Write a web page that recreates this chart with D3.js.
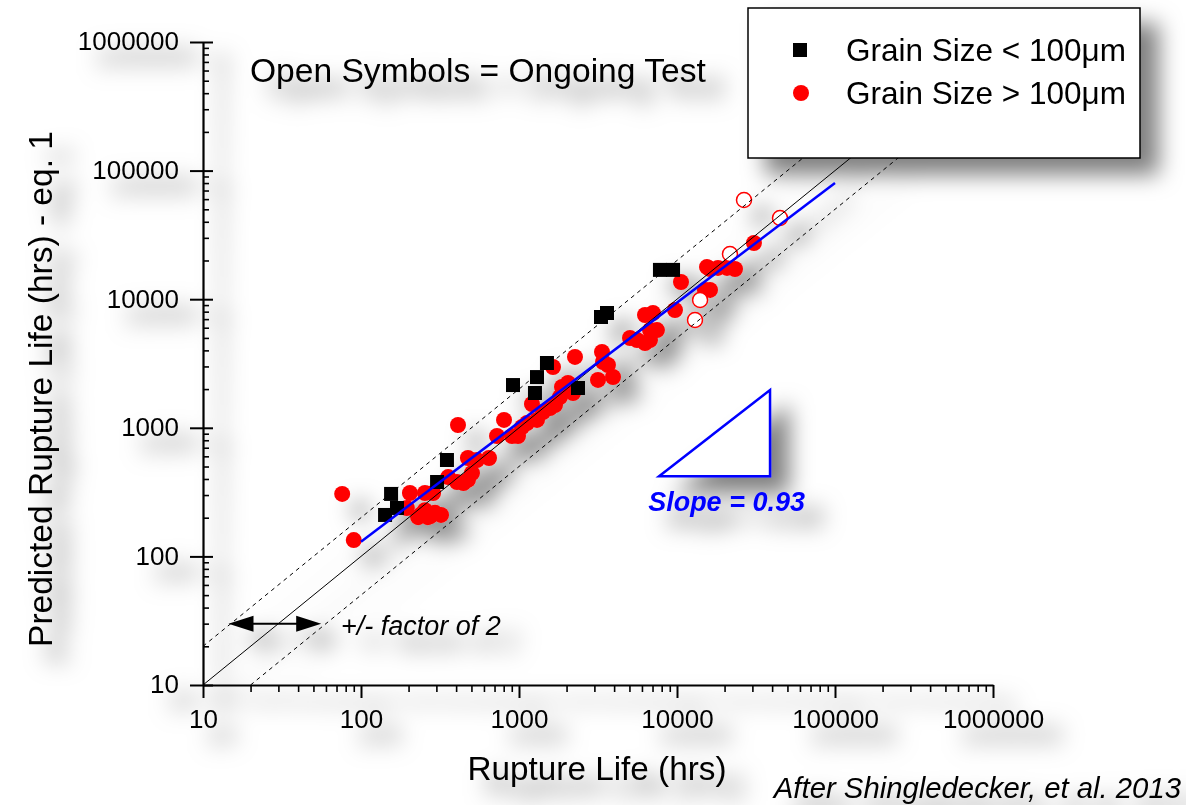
<!DOCTYPE html>
<html>
<head>
<meta charset="utf-8">
<script src="https://cdn.jsdelivr.net/npm/d3@7"></script>
<style>
  html, body { margin: 0; padding: 0; background: #fff; }
  svg { display: block; font-family: "Liberation Sans", Arial, Helvetica, sans-serif; }
</style>
</head>
<body>
<svg id="chart" width="1186" height="805"></svg>
<script>
// ---- data ----
const majorTicks = [10, 100, 1000, 10000, 100000, 1000000];
const tickLabels = ["10", "100", "1000", "10000", "100000", "1000000"];

// Grain Size < 100 µm (black squares): rupture life (hrs), predicted life (hrs)
const fineX = [142, 155, 169, 303, 350, 916, 1262, 1300, 1503, 2362, 3304, 3606, 7800, 9440];
const fineY = [210, 306, 238, 379, 562, 2150, 1865, 2480, 3190, 2040, 7270, 7810, 16900, 16900];

// Grain Size > 100 µm (red filled circles)
const coarseX = [76, 90, 204, 254, 286, 195, 230, 254, 265, 294, 321, 356, 405, 411, 475, 475, 504, 542,
  646, 726, 804, 903, 986, 1045, 1124, 1208, 1300, 1419, 1571, 1690, 1817, 1641, 1871, 2042, 2261, 2198,
  3352, 3404, 3656, 3936, 3162, 5042, 5585, 6273, 6745, 6745, 7468, 6273, 7047, 9710, 10600, 15490,
  16180, 18160, 20720, 23290, 15030, 16180, 30700, 240, 275, 445];
const coarseY = [306, 134, 311, 311, 311, 238, 202, 229, 202, 218, 210, 414, 379, 1052, 582, 393, 445, 562,
  582, 863, 1151, 863, 863, 1015, 1090, 1531, 1151, 1327, 1426, 1504, 1736, 2971, 2076, 2230, 3555, 1865,
  3884, 3250, 3077, 2484, 2355, 4990, 4818, 4563, 4818, 5755, 5755, 7534, 7810, 8241, 13610, 17790,
  17180, 17500, 17500, 17180, 11800, 11800, 27350, 212, 206, 372];

// Ongoing tests (open red circles)
const openX = [26550, 44870, 21640, 14000, 13000];
const openY = [59050, 42780, 22450, 9860, 6890];

// Regression line (slope 0.93 in log-log)
const fitX = [100, 100000];
const fitY = [130, 80000];

// Reference lines: 1:1 and factor-of-2 bands
const lineX = [10, 1000000];
const bandFactor = 2;

// Slope triangle
const triX = [7700, 38800, 38800];
const triY = [420, 420, 1970];

// Double arrow for "+/- factor of 2"
const arrowX = [14.5, 56];
const arrowY = 30;

// ---- chart ----
const svg = d3.select("#chart");
const defs = svg.append("defs");
const f = defs.append("filter").attr("id", "shadow")
  .attr("filterUnits", "userSpaceOnUse")
  .attr("x", 0).attr("y", 0).attr("width", 1186).attr("height", 805);
f.append("feDropShadow").attr("dx", 18).attr("dy", 16).attr("stdDeviation", 11)
  .attr("flood-color", "#000").attr("flood-opacity", 0.5);

const g = svg.append("g").attr("filter", "url(#shadow)");

const x = d3.scaleLog().domain([10, 1000000]).range([203, 993]);
const y = d3.scaleLog().domain([10, 1000000]).range([685, 42]);

const FONT = '"Liberation Sans", Arial, Helvetica, sans-serif';

// minor ticks
const minors = [];
for (let d = 10; d < 1000000; d *= 10) for (let k = 2; k <= 9; k++) minors.push(d * k);

// X axis
const xMinor = g.append("g").attr("transform", "translate(0,685)")
  .call(d3.axisBottom(x).tickValues(minors).tickSize(7).tickSizeOuter(0).tickFormat(""));
xMinor.select(".domain").remove();
xMinor.selectAll(".tick line").attr("stroke", "#000").attr("stroke-width", 1.6);

const xAxis = g.append("g").attr("transform", "translate(0,685)")
  .call(d3.axisBottom(x).tickValues(majorTicks).tickSize(13).tickSizeOuter(0)
    .tickFormat((d, i) => tickLabels[i]));
xAxis.select(".domain").attr("stroke", "#000").attr("stroke-width", 2.2);
xAxis.selectAll(".tick line").attr("stroke", "#000").attr("stroke-width", 2);
xAxis.selectAll(".tick text").attr("y", 43).attr("dy", 0)
  .attr("font-size", 26).attr("font-family", FONT).attr("fill", "#000");

// Y axis
const yMinor = g.append("g").attr("transform", "translate(203,0)")
  .call(d3.axisRight(y).tickValues(minors).tickSize(6).tickSizeOuter(0).tickFormat(""));
yMinor.select(".domain").remove();
yMinor.selectAll(".tick line").attr("stroke", "#000").attr("stroke-width", 1.6);

const yAxis = g.append("g").attr("transform", "translate(203,0)")
  .call(d3.axisLeft(y).tickValues(majorTicks).tickSize(13).tickSizeOuter(0)
    .tickFormat((d, i) => tickLabels[i]));
yAxis.select(".domain").attr("stroke", "#000").attr("stroke-width", 2.2);
yAxis.selectAll(".tick line").attr("x1", 10).attr("stroke", "#000").attr("stroke-width", 2);
yAxis.selectAll(".tick text").attr("x", -24).attr("dy", "0.3em")
  .attr("font-size", 26).attr("font-family", FONT).attr("fill", "#000");

// Markers
const coarse = coarseX.map((v, i) => [v, coarseY[i]]);
const fine = fineX.map((v, i) => [v, fineY[i]]);
const open = openX.map((v, i) => [v, openY[i]]);

g.append("g").selectAll("circle").data(coarse).join("circle")
  .attr("cx", d => x(d[0])).attr("cy", d => y(d[1])).attr("r", 8)
  .attr("fill", "#ff0000");

g.append("g").selectAll("circle").data(open).join("circle")
  .attr("cx", d => x(d[0])).attr("cy", d => y(d[1])).attr("r", 7.5)
  .attr("fill", "#fff").attr("stroke", "#ff0000").attr("stroke-width", 1.5);

g.append("g").selectAll("path").data(fine).join("path")
  .attr("d", d3.symbol(d3.symbolSquare, 196))
  .attr("transform", d => `translate(${x(d[0])},${y(d[1])})`)
  .attr("fill", "#000");

// Reference lines
const line = d3.line().x(d => x(d[0])).y(d => y(d[1]));
const lines = g.append("g").attr("fill", "none");
lines.append("path").attr("d", line(lineX.map(v => [v, v])))
  .attr("stroke", "#000").attr("stroke-width", 1);
lines.append("path").attr("d", line([[lineX[0], lineX[0] * bandFactor], [lineX[1] / bandFactor, lineX[1]]]))
  .attr("stroke", "#000").attr("stroke-width", 1).attr("stroke-dasharray", "4,4");
lines.append("path").attr("d", line([[lineX[0] * bandFactor, lineX[0]], [lineX[1], lineX[1] / bandFactor]]))
  .attr("stroke", "#000").attr("stroke-width", 1).attr("stroke-dasharray", "4,4");

// Regression line
g.append("path").attr("d", line(fitX.map((v, i) => [v, fitY[i]])))
  .attr("fill", "none").attr("stroke", "#0000ff").attr("stroke-width", 2.5);

// Slope triangle
g.append("path").attr("d", line(triX.map((v, i) => [v, triY[i]])) + "Z")
  .attr("fill", "#fff").attr("stroke", "#0000ff").attr("stroke-width", 2.5)
  .attr("stroke-linejoin", "miter");
g.append("text").attr("x", (x(triX[0]) + x(triX[1])) / 2 + 12).attr("y", 511)
  .attr("text-anchor", "middle").attr("font-size", 27).attr("font-weight", "bold")
  .attr("font-style", "italic").attr("fill", "#0000ff").attr("font-family", FONT)
  .text("Slope = 0.93");

// Double arrow
const ax0 = x(arrowX[0]), ax1 = x(arrowX[1]), ay = y(arrowY);
g.append("line").attr("x1", ax0 + 20).attr("x2", ax1 - 20).attr("y1", ay).attr("y2", ay)
  .attr("stroke", "#000").attr("stroke-width", 2);
g.append("path").attr("d", `M${ax0},${ay} L${ax0 + 25},${ay - 8} L${ax0 + 25},${ay + 8} Z`).attr("fill", "#000");
g.append("path").attr("d", `M${ax1},${ay} L${ax1 - 25},${ay - 8} L${ax1 - 25},${ay + 8} Z`).attr("fill", "#000");
g.append("text").attr("x", 341).attr("y", 635).attr("font-size", 27).attr("font-style", "italic")
  .attr("font-family", FONT).attr("fill", "#000").text("+/- factor of 2");

// Note
g.append("text").attr("x", 250).attr("y", 82).attr("font-size", 33.6)
  .attr("font-family", FONT).attr("fill", "#000").text("Open Symbols = Ongoing Test");

// Axis titles
g.append("text").attr("x", 597).attr("y", 780).attr("text-anchor", "middle")
  .attr("font-size", 33.3).attr("font-family", FONT).attr("fill", "#000").text("Rupture Life (hrs)");
g.append("text").attr("transform", "translate(52,389) rotate(-90)").attr("text-anchor", "middle")
  .attr("font-size", 33.5).attr("font-family", FONT).attr("fill", "#000")
  .text("Predicted Rupture Life (hrs) - eq. 1");

// Source
g.append("text").attr("x", 1181).attr("y", 798).attr("text-anchor", "end")
  .attr("font-size", 29.3).attr("font-style", "italic").attr("font-family", FONT).attr("fill", "#000")
  .text("After Shingledecker, et al. 2013");

// Legend
const leg = g.append("g");
leg.append("rect").attr("x", 748).attr("y", 8).attr("width", 392).attr("height", 150)
  .attr("fill", "#fff").attr("stroke", "#000").attr("stroke-width", 1.5);
leg.append("path").attr("d", d3.symbol(d3.symbolSquare, 196)).attr("transform", "translate(800,50)").attr("fill", "#000");
leg.append("circle").attr("cx", 801).attr("cy", 93).attr("r", 8).attr("fill", "#ff0000");
leg.append("text").attr("x", 846).attr("y", 61).attr("font-size", 31.5).attr("font-family", FONT)
  .attr("fill", "#000").text("Grain Size < 100μm");
leg.append("text").attr("x", 846).attr("y", 104).attr("font-size", 31.5).attr("font-family", FONT)
  .attr("fill", "#000").text("Grain Size > 100μm");
</script>
</body>
</html>
